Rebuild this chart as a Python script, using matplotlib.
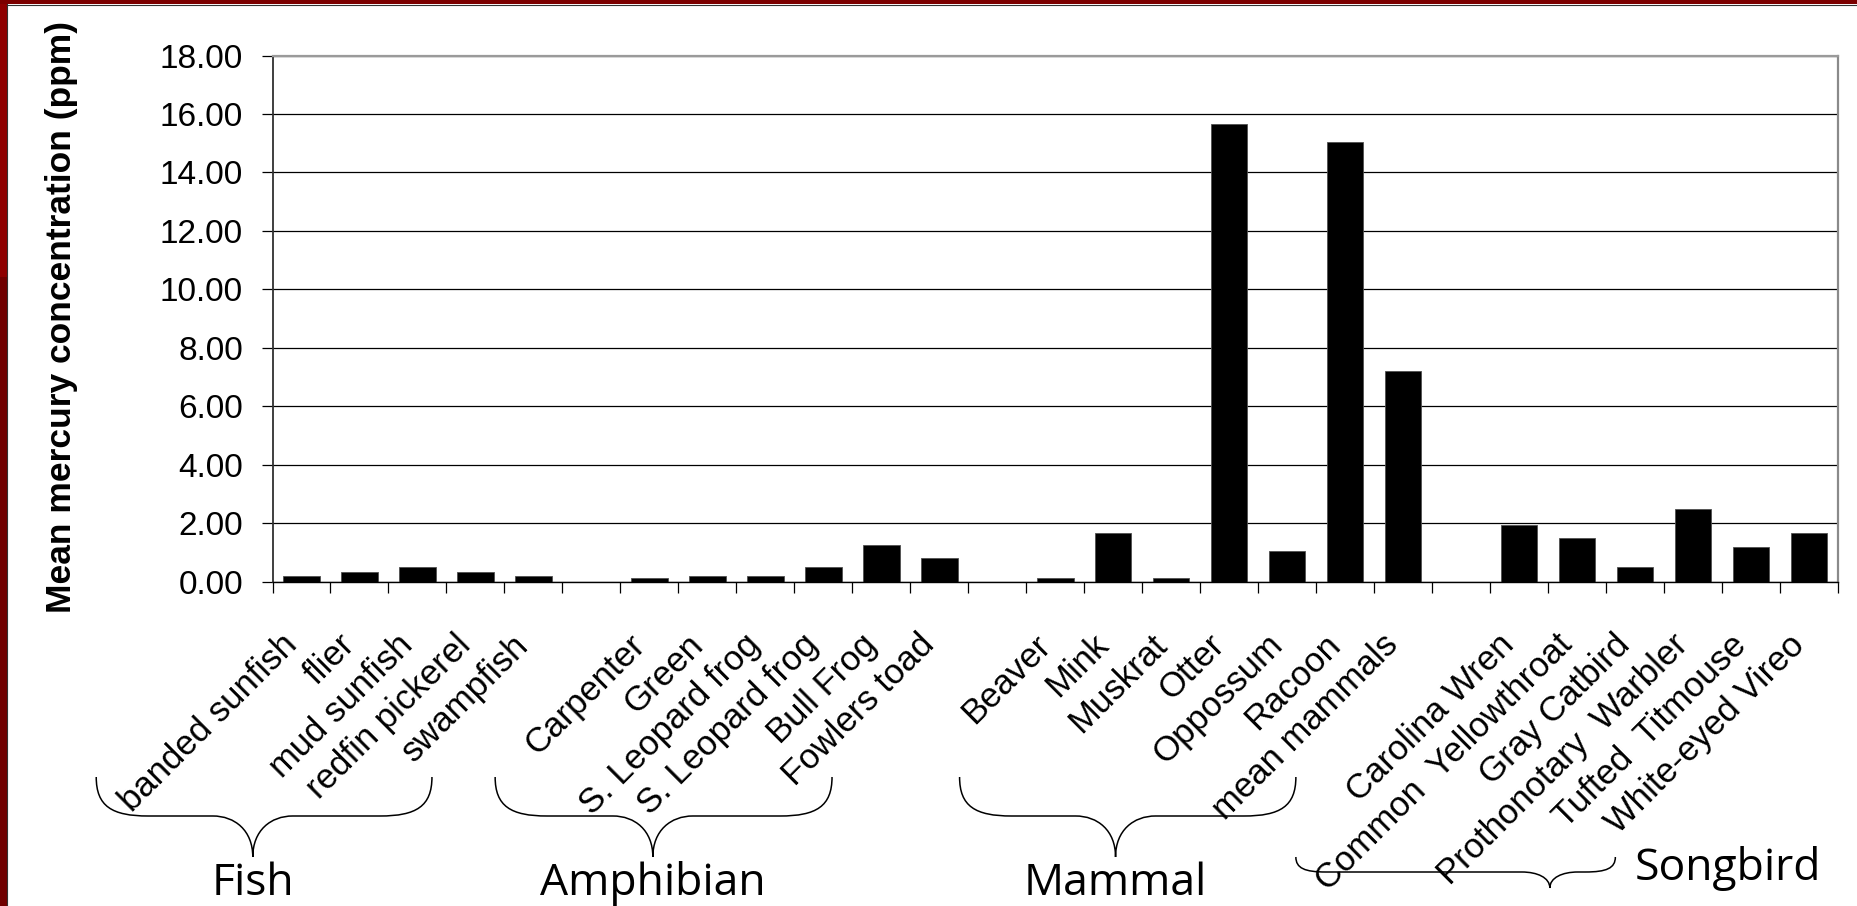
import numpy as np
import matplotlib.pyplot as plt
from matplotlib.path import Path
from matplotlib.patches import PathPatch, Rectangle
from matplotlib.transforms import IdentityTransform

# mean mercury concentration (ppm) per species, grouped by animal type
fish = ['banded sunfish', 'flier', 'mud sunfish', 'redfin pickerel', 'swampfish']
fish_ppm = [0.19, 0.34, 0.49, 0.34, 0.19]

amphibians = ['Carpenter', 'Green', 'S. Leopard frog', 'S. Leopard frog', 'Bull Frog', 'Fowlers toad']
amphibian_ppm = [0.12, 0.19, 0.19, 0.49, 1.26, 0.80]

mammals = ['Beaver', 'Mink', 'Muskrat', 'Otter', 'Oppossum', 'Racoon', 'mean mammals']
mammal_ppm = [0.12, 1.65, 0.12, 15.66, 1.04, 15.04, 7.21]

songbirds = ['Carolina Wren', 'Common  Yellowthroat', 'Gray Catbird',
             'Prothonotary  Warbler', 'Tufted  Titmouse', 'White-eyed Vireo']
songbird_ppm = [1.95, 1.50, 0.50, 2.48, 1.19, 1.65]

group_names = ['Fish', 'Amphibian', 'Mammal', 'Songbird']
yticks = np.arange(0, 19, 2)

# one empty slot between groups
labels, xs, heights = [], [], []
for names, ppm in [(fish, fish_ppm), (amphibians, amphibian_ppm),
                   (mammals, mammal_ppm), (songbirds, songbird_ppm)]:
    if labels:
        labels.append('')
    start = len(labels)
    labels += names
    xs += list(range(start, start + len(names)))
    heights += ppm
n_slots = len(labels)

W, H = 1858, 906
fig = plt.figure(figsize=(W / 100, H / 100), dpi=100)
fig.patch.set_facecolor('white')

# dark red slide frame along the left and top edges
fig.add_artist(Rectangle((0, 0), 7 / W, 1 - 277 / H, transform=fig.transFigure, color='#700000', lw=0))
fig.add_artist(Rectangle((0, 1 - 277 / H), 7 / W, 277 / H, transform=fig.transFigure, color='#8e0000', lw=0))
fig.add_artist(Rectangle((0, 1 - 4 / H), 1, 4 / H, transform=fig.transFigure, color='#7c0000', lw=0))
fig.add_artist(plt.Line2D([7.5 / W, 7.5 / W], [0, 1 - 4 / H], transform=fig.transFigure, color='#333333', lw=0.8))
fig.add_artist(plt.Line2D([7 / W, 1], [1 - 4.5 / H, 1 - 4.5 / H], transform=fig.transFigure, color='#333333', lw=0.8))

ax = fig.add_axes([272.5 / W, 1 - 581.5 / H, (1838 - 272.5) / W, (581.5 - 55.5) / H])
ax.set_xlim(-0.5, n_slots - 0.5)
ax.set_ylim(0, 18)
ax.set_axisbelow(True)

ax.bar(xs, heights, width=0.63, color='black', edgecolor='#505050', linewidth=0.6)

ax.set_yticks(yticks, [f'{v:.2f}' for v in yticks], fontsize=24, family='Liberation Sans')
ax.tick_params(axis='y', direction='out', length=7.7, width=0.9, pad=13.5)
ax.yaxis.grid(True, color='black', linewidth=0.9)

# category boundary ticks, labels on invisible minor ticks
ax.set_xticks(np.arange(-0.5, n_slots, 1.0))
ax.set_xticklabels([])
ax.tick_params(axis='x', which='major', direction='out', length=8, width=0.9)
ax.set_xticks(np.arange(n_slots) - 0.17, labels, minor=True)
ax.tick_params(axis='x', which='minor', length=0, pad=42)
for lab in ax.get_xticklabels(minor=True):
    lab.set(rotation=45, ha='right', va='center', rotation_mode='anchor',
            fontsize=25, family='Liberation Sans')

ax.spines['left'].set(color='#303030', linewidth=1.3)
ax.spines['bottom'].set(color='black', linewidth=1.0)
ax.spines['top'].set(color='#9a9a9a', linewidth=1.6)
ax.spines['right'].set(color='#8a8a8a', linewidth=1.6)

fig.text(62 / W, 1 - 317 / H, 'Mean mercury concentration (ppm)', rotation=90,
         ha='center', va='center', fontsize=25.5, fontweight='bold', family='Liberation Sans')


def brace(x0, x1, xt, y_end, y_mid, y_tip, arm, neck):
    # x in data units, y in pixels from the top of the figure
    X0, X1, XT = (ax.transData.transform((v, 0))[0] for v in (x0, x1, xt))
    ye, ym, yt = H - y_end, H - y_mid, H - y_tip
    dv, dt = ye - ym, ym - yt
    verts = [(X0, ye),
             (X0, ym + 0.25 * dv), (X0 + 0.3 * arm, ym), (X0 + arm, ym),
             (XT - neck, ym),
             (XT - 0.45 * neck, ym), (XT, ym - 0.35 * dt), (XT, yt),
             (XT, ym - 0.35 * dt), (XT + 0.45 * neck, ym), (XT + neck, ym),
             (X1 - arm, ym),
             (X1 - 0.3 * arm, ym), (X1, ym + 0.25 * dv), (X1, ye)]
    codes = ([Path.MOVETO] + [Path.CURVE4] * 3 + [Path.LINETO] + [Path.CURVE4] * 6
             + [Path.LINETO] + [Path.CURVE4] * 3)
    fig.add_artist(PathPatch(Path(verts, codes), transform=IdentityTransform(),
                             facecolor='none', edgecolor='black', lw=1.1))


# group braces: x span (data units) and tip position
braces = [(-3.54, 2.25, -0.84), (3.34, 9.15, 6.06), (11.35, 17.15, 14.04)]
for x0, x1, xt in braces:
    brace(x0, x1, xt, 777, 816, 857, arm=52, neck=40)
brace(17.15, 22.66, 21.53, 857, 872, 888, arm=30, neck=28)

label_tf = ax.get_xaxis_transform()
for name, (_, _, xt) in zip(group_names[:3], braces):
    ax.text(xt, 1 - (895 - 55.5) / (581.5 - 55.5), name, transform=label_tf,
            ha='center', va='baseline', fontsize=32, family='Open Sans', clip_on=False)
ax.text(24.6, 1 - (880 - 55.5) / (581.5 - 55.5), group_names[3], transform=label_tf,
        ha='center', va='baseline', fontsize=32, family='Open Sans', clip_on=False)

fig.savefig('out.png', dpi=100)
